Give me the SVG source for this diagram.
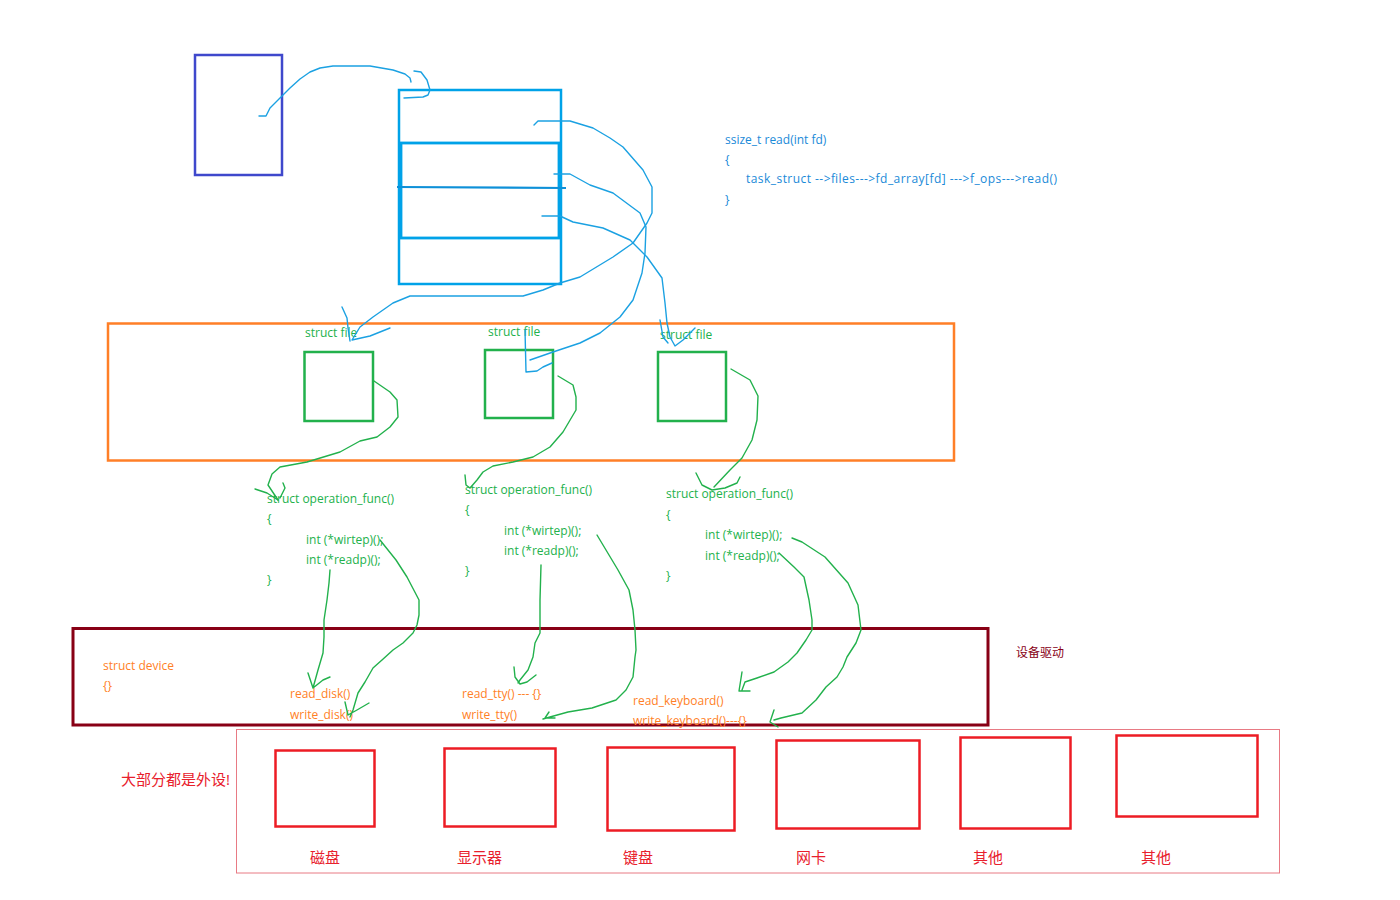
<svg xmlns="http://www.w3.org/2000/svg" width="1400" height="900" viewBox="0 0 1400 900">
<style>
text{font-family:"Open Sans","Noto Sans CJK SC",sans-serif;font-size:12px}
.g{fill:#22b14c}.o{fill:#ff7f27}.b{fill:#1a8ad8}.r{fill:#e8202c;font-size:15px}
.bl{fill:none;stroke:#1ba1e2;stroke-width:1.4;stroke-linejoin:round;stroke-linecap:round}
.gl{fill:none;stroke:#22b14c;stroke-width:1.4;stroke-linejoin:round;stroke-linecap:round}
.gbox{fill:none;stroke:#22b14c;stroke-width:2.5}
.rbox{fill:none;stroke:#ed1c24;stroke-width:2.5}
</style>
<rect width="1400" height="900" fill="#fff"/>
<g id="task">
<rect x="195" y="55" width="87" height="120" fill="none" stroke="#3f48cc" stroke-width="2.5"/>
</g>
<g id="files">
<rect x="399" y="90" width="162" height="194" fill="none" stroke="#00a2e8" stroke-width="2.5"/>
<rect x="401" y="143" width="158" height="95" fill="none" stroke="#00a2e8" stroke-width="2.8"/>
<line x1="397" y1="187" x2="566" y2="188" stroke="#0e90d8" stroke-width="2.2"/>
</g>
<g id="code">
<text class="b" x="725" y="144">ssize_t read(int fd)</text>
<text class="b" x="725" y="164">{</text>
<text class="b" x="746" y="183" textLength="311" lengthAdjust="spacing">task_struct --&gt;files---&gt;fd_array[fd] ---&gt;f_ops---&gt;read()</text>
<text class="b" x="725" y="204">}</text>
</g>
<g id="filelayer">
<rect x="108" y="323.5" width="846" height="137" fill="none" stroke="#ff7f27" stroke-width="2.5"/>
</g>
<g id="file1">
<text class="g" x="305" y="337">struct file</text>
<rect class="gbox" x="304.5" y="352" width="68.5" height="69"/>
</g>
<g id="file2">
<text class="g" x="488" y="336">struct file</text>
<rect class="gbox" x="485" y="350" width="68" height="68"/>
</g>
<g id="file3">
<text class="g" x="660" y="339">struct file</text>
<rect class="gbox" x="658" y="352" width="68" height="69"/>
</g>
<g id="ops1">
<text class="g" x="267" y="503">struct operation_func()</text>
<text class="g" x="267" y="523">{</text>
<text class="g" x="306" y="544">int (*wirtep)();</text>
<text class="g" x="306" y="564">int (*readp)();</text>
<text class="g" x="267" y="584">}</text>
</g>
<g id="ops2">
<text class="g" x="465" y="494">struct operation_func()</text>
<text class="g" x="465" y="514">{</text>
<text class="g" x="504" y="535">int (*wirtep)();</text>
<text class="g" x="504" y="555">int (*readp)();</text>
<text class="g" x="465" y="575">}</text>
</g>
<g id="ops3">
<text class="g" x="666" y="498">struct operation_func()</text>
<text class="g" x="666" y="519">{</text>
<text class="g" x="705" y="539">int (*wirtep)();</text>
<text class="g" x="705" y="560">int (*readp)();</text>
<text class="g" x="666" y="580">}</text>
</g>
<g id="device">
<rect x="73" y="628.5" width="915" height="96.5" fill="none" stroke="#880015" stroke-width="3"/>
<text class="o" x="103" y="670">struct device</text>
<text class="o" x="103" y="690">{}</text>
<text class="o" x="290" y="698">read_disk()</text>
<text class="o" x="290" y="719">write_disk()</text>
<text class="o" x="462" y="698">read_tty() --- {}</text>
<text class="o" x="462" y="719">write_tty()</text>
<text class="o" x="633" y="705">read_keyboard()</text>
<text class="o" x="633" y="725">write_keyboard()---{}</text>
<text x="1016" y="657" fill="#880015">设备驱动</text>
</g>
<g id="hardware">
<rect x="236.5" y="729.5" width="1043" height="143.5" fill="none" stroke="#e87a84" stroke-width="1"/>
<text class="r" x="121" y="785">大部分都是外设!</text>
</g>
<g id="disk"><rect class="rbox" x="275.5" y="750.5" width="99" height="76"/><text class="r" x="310" y="863">磁盘</text></g>
<g id="display"><rect class="rbox" x="444.5" y="748.5" width="111" height="78"/><text class="r" x="457" y="863">显示器</text></g>
<g id="keyboard"><rect class="rbox" x="607.5" y="747.5" width="127" height="83"/><text class="r" x="623" y="863">键盘</text></g>
<g id="nic"><rect class="rbox" x="776.5" y="740.5" width="143" height="88"/><text class="r" x="796" y="863">网卡</text></g>
<g id="other1"><rect class="rbox" x="960.5" y="737.5" width="110" height="91"/><text class="r" x="973" y="863">其他</text></g>
<g id="other2"><rect class="rbox" x="1116.5" y="735.5" width="141" height="81"/><text class="r" x="1141" y="863">其他</text></g>
<g id="connectors">
<path class="bl" d="M259 116 L266 116 L270 108 L280 98 L290 88 L300 79 L310 72 L320 68 L333 66 L370 66 L393 70 L405 74 L410 78 L411 82"/>
<path class="bl" d="M414 71 L421 72 L427 80 L430 90 L428 95 L423 97 L404 98"/>
<path class="bl" d="M534 125 L538 121 L570 121 L593 128 L610 138 L623 147 L643 170 L652 187 L652 213 L647 223 L633 243 L613 257 L580 277 L560 283 L543 290 L523 296 L410 296 L393 303 L373 317 L360 327 L352 340 L370 336 L390 328"/>
<path class="bl" d="M342 307 L347 318 L348 328 L350 341"/>
<path class="bl" d="M554 174 L570 174 L590 185 L613 193 L640 213 L646 227 L645 253 L642 273 L633 300 L620 317 L600 333 L580 343 L553 352 L530 360"/>
<path class="bl" d="M525 330 L526 372 L537 371 L543 367 L552 363"/>
<path class="bl" d="M542 216 L560 216 L573 222 L603 228 L630 240 L647 257 L662 278 L665 303 L667 323 L670 337 L675 346 L683 340 L695 328"/>
<path class="bl" d="M660 320 L663 337 L668 343"/>
<path class="gl" d="M374 381 L390 392 L397 400 L398 417 L390 427 L377 437 L360 441 L340 452 L307 462 L280 467 L272 474 L268 485 L278 500"/>
<path class="gl" d="M255 489 L267 493 L278 500 M283 483 L285 488 L280 498"/>
<path class="gl" d="M558 376 L573 385 L576 397 L576 410 L563 432 L550 447 L533 457 L513 462 L493 466 L483 472 L477 480 L470 488 M465 475 L466 485 L470 488"/>
<path class="gl" d="M731 369 L750 380 L758 396 L757 420 L752 440 L742 458 L730 470 L714 487 M696 473 L702 485 L712 490 L725 488 L737 483 L740 477"/>
<path class="gl" d="M330 570 L329 583 L327 600 L324 620 L324 637 L323 653 L318 670 L313 688 M308 673 L313 688 L323 680 L330 677"/>
<path class="gl" d="M380 540 L396 560 L407 577 L419 600 L419 615 L417 625 L413 633 L403 643 L393 650 L382 660 L373 668 L365 682 L358 693 L353 710 L350 717 M345 702 L348 715 L357 710 L369 703"/>
<path class="gl" d="M541 565 L540 600 L540 633 L535 643 L533 657 L528 670 L520 680 L518 683 M514 667 L515 677 L520 684 L527 682 L536 675"/>
<path class="gl" d="M597 535 L606 550 L618 570 L629 590 L633 610 L635 630 L636 650 L635 657 L633 677 L626 690 L616 700 L592 708 L568 712 L550 717 L543 719 M549 712 L545 718 L555 718"/>
<path class="gl" d="M779 553 L794 567 L804 577 L809 600 L812 620 L812 630 L806 640 L797 653 L788 662 L774 672 L757 678 L745 682 L742 690 M742 672 L739 691 L750 691"/>
<path class="gl" d="M792 538 L802 542 L825 557 L848 583 L858 605 L861 630 L856 643 L847 657 L843 667 L837 677 L826 687 L816 700 L802 713 L781 718 L774 720 M774 710 L770 722 L778 727"/>
</g>
</svg>
